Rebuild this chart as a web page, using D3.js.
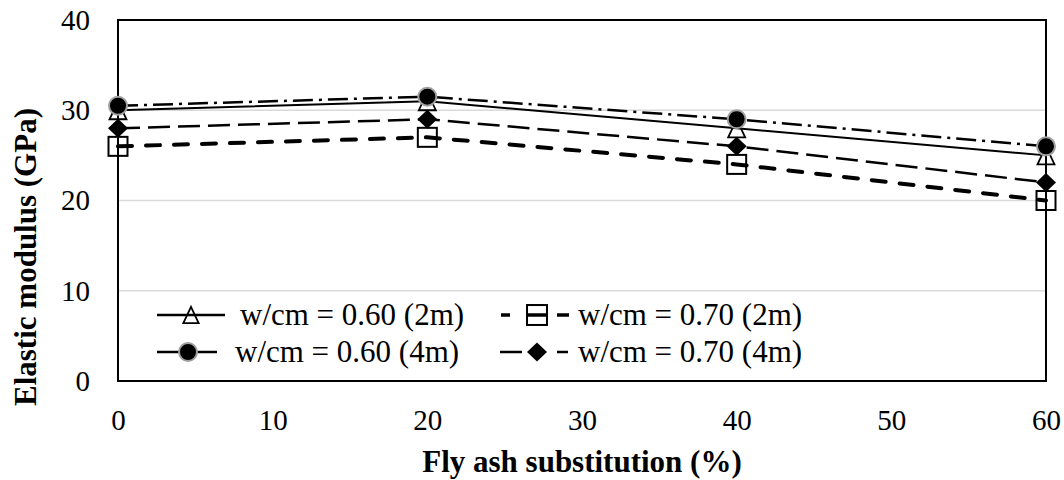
<!DOCTYPE html>
<html><head><meta charset="utf-8">
<script src="https://cdn.jsdelivr.net/npm/d3@7"></script>
<style>body{margin:0;background:#fff}svg{display:block}svg text{font-family:"Liberation Serif",Tinos,"Times New Roman",Times,serif}</style>
</head><body>
<svg id="c" width="1064" height="480"></svg>
<script>
const xValues = [0, 20, 40, 60];
const s060_2m = [30, 31, 28, 25];
const s070_2m = [26, 27, 24, 20];
const s060_4m = [30.5, 31.5, 29, 26];
const s070_4m = [28, 29, 26, 22];
const xTicks = [0, 10, 20, 30, 40, 50, 60];
const yTicks = [0, 10, 20, 30, 40];
const seriesNames = ["w/cm = 0.60 (2m)", "w/cm = 0.70 (2m)", "w/cm = 0.60 (4m)", "w/cm = 0.70 (4m)"];

const svg = d3.select("#c");
const L = 118, R = 1046, T = 20, B = 381;
const x = d3.scaleLinear().domain([0, 60]).range([L, R]);
const y = d3.scaleLinear().domain([0, 40]).range([B, T]);

svg.append("g").selectAll("line").data(yTicks.filter(d => d > 0 && d < 40)).join("line")
  .attr("x1", L).attr("x2", R).attr("y1", d => y(d)).attr("y2", d => y(d))
  .attr("stroke", "#d9d9d9").attr("stroke-width", 1.5);

const xa = svg.append("g").attr("transform", `translate(0,${B})`)
  .call(d3.axisBottom(x).tickValues(xTicks).tickSize(0).tickPadding(28).tickFormat(d3.format("d")));
xa.select(".domain").remove();
xa.attr("font-family", null).attr("font-size", null);
xa.selectAll("text").attr("font-size", 29).attr("fill", "#000");
const ya = svg.append("g").attr("transform", `translate(${L},0)`)
  .call(d3.axisLeft(y).tickValues(yTicks).tickSize(0).tickPadding(28).tickFormat(d3.format("d")));
ya.select(".domain").remove();
ya.attr("font-family", null).attr("font-size", null);
ya.selectAll("text").attr("font-size", 29).attr("fill", "#000");

svg.append("rect").attr("x", L).attr("y", T).attr("width", R - L).attr("height", B - T)
  .attr("fill", "none").attr("stroke", "#000").attr("stroke-width", 2);

svg.append("text").attr("x", (L + R) / 2).attr("y", 472).attr("text-anchor", "middle")
  .attr("font-size", 31).attr("font-weight", "bold").text("Fly ash substitution (%)");
svg.append("text").attr("transform", `translate(36,${257}) rotate(-90)`).attr("text-anchor", "middle")
  .attr("font-size", 31).attr("font-weight", "bold").text("Elastic modulus (GPa)");

const series = [
  {name: seriesNames[0], vals: s060_2m, dash: null, w: 2, marker: "tri", cap: "butt"},
  {name: seriesNames[1], vals: s070_2m, dash: "14,14", w: 4, marker: "sq", cap: "round"},
  {name: seriesNames[2], vals: s060_4m, dash: "20,6,3,6", w: 2.5, marker: "circ", cap: "butt"},
  {name: seriesNames[3], vals: s070_4m, dash: "22,8", w: 2.5, marker: "dia", cap: "butt"},
];

function drawMarker(g, type, cx, cy, sc) {
  sc = sc || 1;
  if (type === "tri") {
    const h = 9 * sc, w = 8.5 * sc;
    g.append("path").attr("d", `M${cx},${cy - h}L${cx + w},${cy + h}L${cx - w},${cy + h}Z`)
      .attr("fill", "none").attr("stroke", "#000").attr("stroke-width", 1.8);
  } else if (type === "sq") {
    const h = 9.5 * sc;
    g.append("rect").attr("x", cx - h).attr("y", cy - h).attr("width", 2 * h).attr("height", 2 * h)
      .attr("fill", "none").attr("stroke", "#000").attr("stroke-width", 2);
  } else if (type === "circ") {
    g.append("circle").attr("cx", cx).attr("cy", cy).attr("r", 9 * sc)
      .attr("fill", "#000").attr("stroke", "#a0a0a0").attr("stroke-width", 2);
  } else if (type === "dia") {
    const w = 10 * sc, h = 9.5 * sc;
    g.append("path").attr("d", `M${cx},${cy - h}L${cx + w},${cy}L${cx},${cy + h}L${cx - w},${cy}Z`)
      .attr("fill", "#000");
  }
}

const line = d3.line().x((d, i) => x(xValues[i])).y(d => y(d));
series.forEach(s => {
  svg.append("path").datum(s.vals).attr("d", line).attr("fill", "none")
    .attr("stroke", "#000").attr("stroke-width", s.w)
    .attr("stroke-dasharray", s.dash).attr("stroke-linecap", s.cap);
});
["sq", "dia", "tri", "circ"].forEach(m => {
  const s = series.find(q => q.marker === m);
  const g = svg.append("g");
  s.vals.forEach((v, i) => drawMarker(g, m, x(xValues[i]), y(v)));
});

// legend
const leg = svg.append("g");
leg.append("rect").attr("x", 140).attr("y", 296).attr("width", 690).attr("height", 78).attr("fill", "#fff");
const legPos = [
  {ly: 315, tx: 240, mx: 191, segs: [[157, 225]]},
  {ly: 315, tx: 578, mx: 537, segs: [[501, 510], [527, 547], [557, 569]]},
  {ly: 352, tx: 235, mx: 188, segs: [[157, 217]]},
  {ly: 352, tx: 578, mx: 537, segs: [[500, 522], [557, 568]]},
];
series.forEach((s, i) => {
  const p = legPos[i];
  const g = leg.append("g");
  p.segs.forEach(sg => g.append("line").attr("x1", sg[0]).attr("x2", sg[1])
    .attr("y1", p.ly).attr("y2", p.ly).attr("stroke", "#000")
    .attr("stroke-width", s.marker === "sq" ? 3.5 : 2.5));
  drawMarker(g, s.marker, p.mx, p.ly, s.marker === "tri" ? 0.9 : (s.marker === "sq" ? 1.05 : 1));
  g.append("text").attr("x", p.tx).attr("y", p.ly).attr("dy", "0.33em")
    .attr("font-size", 31).text(s.name);
});
</script>
</body></html>
